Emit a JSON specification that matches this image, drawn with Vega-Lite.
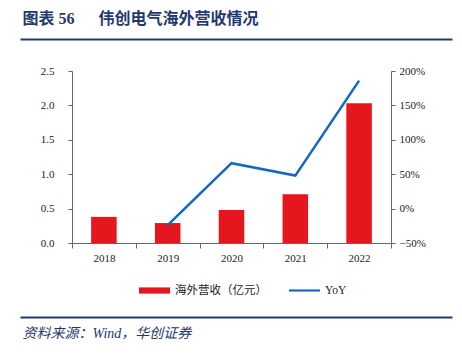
{
  "$schema": "https://vega.github.io/schema/vega-lite/v6.json",
  "width": 319,
  "height": 172,
  "autosize": "none",
  "padding": {"left": 72, "top": 71, "right": 71, "bottom": 112},
  "background": "white",
  "config": {
    "view": {"stroke": null},
    "font": "\"Liberation Serif\", \"Noto Sans CJK SC\", serif",
    "axis": {
      "labelFont": "\"Liberation Serif\", \"Noto Sans CJK SC\", serif",
      "labelFontSize": 11,
      "labelColor": "#222222",
      "domainColor": "#666666",
      "tickColor": "#666666",
      "grid": false
    }
  },
  "layer": [
    {
      "data": {
        "values": [
          {"year": "2018", "rev": 0.38, "yoy": null},
          {"year": "2019", "rev": 0.29, "yoy": -0.24},
          {"year": "2020", "rev": 0.48, "yoy": 0.66},
          {"year": "2021", "rev": 0.71, "yoy": 0.48},
          {"year": "2022", "rev": 2.03, "yoy": 1.86}
        ]
      },
      "encoding": {
        "x": {
          "field": "year",
          "type": "nominal",
          "sort": null,
          "scale": {"paddingInner": 0, "paddingOuter": 0},
          "axis": {
            "title": null,
            "labelAngle": 0,
            "tickBand": "extent",
            "tickSize": 5,
            "labelPadding": 4
          }
        }
      },
      "layer": [
        {
          "mark": {"type": "bar", "width": {"band": 0.4}, "color": "#E5161D"},
          "encoding": {
            "y": {
              "field": "rev",
              "type": "quantitative",
              "scale": {"domain": [0, 2.5], "nice": false},
              "axis": {
                "title": null,
                "orient": "left",
                "values": [0, 0.5, 1, 1.5, 2, 2.5],
                "format": ".1f",
                "tickSize": 4,
                "labelPadding": 14
              }
            },
            "color": {
              "datum": "海外营收（亿元）",
              "scale": {"domain": ["海外营收（亿元）", "YoY"], "range": ["#E5161D", "#1268C4"]},
              "legend": {
                "title": null,
                "orient": "none",
                "legendX": 67,
                "legendY": 204,
                "direction": "horizontal",
                "labelFont": "\"Liberation Serif\", \"Noto Sans CJK SC\", serif",
                "labelFontSize": 11.5,
                "labelColor": "#222222",
                "labelOffset": 5,
                "columnPadding": 22,
                "symbolSize": 961,
                "symbolStrokeWidth": 0,
                "encode": {
                  "symbols": {
                    "update": {
                      "shape": {"signal": "datum.value === 'YoY' ? 'M-1,-0.07H1V0.07H-1Z' : 'M-1,-0.2H1V0.2H-1Z'"},
                      "fill": {"signal": "datum.value === 'YoY' ? '#1268C4' : '#E5161D'"},
                      "stroke": {"value": "transparent"},
                      "opacity": {"value": 1}
                    }
                  }
                }
              }
            }
          }
        },
        {
          "mark": {"type": "line", "strokeWidth": 2.5, "color": "#1268C4"},
          "encoding": {
            "y": {
              "field": "yoy",
              "type": "quantitative",
              "scale": {"domain": [-0.5, 2], "nice": false},
              "axis": {
                "title": null,
                "orient": "right",
                "values": [-0.5, 0, 0.5, 1, 1.5, 2],
                "format": ".0%",
                "tickSize": 4,
                "labelPadding": 4
              }
            },
            "color": {"datum": "YoY"}
          }
        }
      ],
      "resolve": {"scale": {"y": "independent"}}
    },
    {
      "data": {"values": [{"d": 0}, {"d": 1}]},
      "mark": {"type": "point", "opacity": 0},
      "encoding": {
        "x": {
          "field": "d",
          "type": "quantitative",
          "scale": {"domain": [0, 1], "range": [-52, 380]},
          "axis": {
            "orient": "top",
            "offset": 32,
            "domainColor": "#1F3A6E",
            "domainWidth": 2,
            "ticks": false,
            "labels": false,
            "title": "图表 56\u00a0\u00a0\u00a0\u00a0\u00a0\u00a0伟创电气海外营收情况",
            "titleFont": "\"Liberation Serif\", \"Noto Sans CJK SC\", serif",
            "titleFontSize": 16,
            "titleFontWeight": "bold",
            "titleColor": "#1F3A6E",
            "titleAnchor": "start",
            "titleAlign": "left",
            "titleBaseline": "middle",
            "titleX": -50,
            "titleY": -21
          }
        }
      }
    },
    {
      "data": {"values": [{"d": 0}, {"d": 1}]},
      "mark": {"type": "point", "opacity": 0},
      "encoding": {
        "x": {
          "field": "d",
          "type": "quantitative",
          "scale": {"domain": [0, 1], "range": [-52, 380]},
          "axis": {
            "orient": "bottom",
            "offset": 74,
            "domainColor": "#1F3A6E",
            "domainWidth": 2,
            "ticks": false,
            "labels": false,
            "title": "资料来源：Wind，华创证券",
            "titleFont": "\"Liberation Serif\", \"Noto Sans CJK SC\", serif",
            "titleFontSize": 14,
            "titleFontWeight": "normal",
            "titleFontStyle": "italic",
            "titleColor": "#1F3A6E",
            "titleAnchor": "start",
            "titleAlign": "left",
            "titleBaseline": "middle",
            "titleX": -50,
            "titleY": 16
          }
        }
      }
    }
  ],
  "resolve": {"scale": {"x": "independent", "y": "independent"}, "axis": {"x": "independent"}}
}
